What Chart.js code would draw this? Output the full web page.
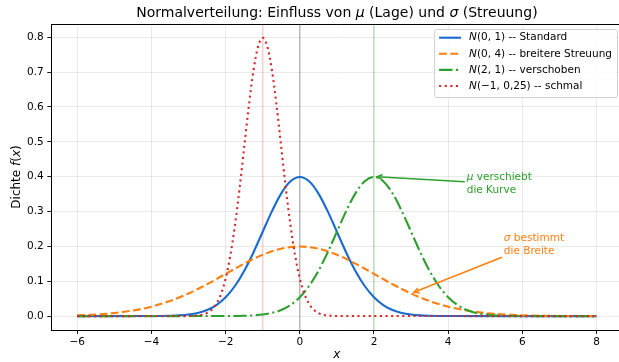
<!DOCTYPE html>
<html>
<head>
<meta charset="utf-8">
<script src="https://cdn.jsdelivr.net/npm/chart.js@4/dist/chart.umd.min.js"></script>
<style>
html, body { margin: 0; padding: 0; background: #fff; overflow: hidden; }
#wrap { width: 626px; height: 362px; }
</style>
</head>
<body>
<div id="wrap"><canvas id="c" width="626" height="362"></canvas></div>
<script>
// Werte
const stdX = [-6, -4, -3.75, -3.5, -3.25, -3, -2.75, -2.5, -2.25, -2, -1.75, -1.5, -1.25, -1, -0.75, -0.5, -0.25,
  0, 0.25, 0.5, 0.75, 1, 1.25, 1.5, 1.75, 2, 2.25, 2.5, 2.75, 3, 3.25, 3.5, 3.75, 4, 8];
const stdY = [0, 0.0001, 0.0004, 0.0009, 0.0020, 0.0044, 0.0091, 0.0175, 0.0317, 0.0540, 0.0863, 0.1295, 0.1826, 0.2420, 0.3011, 0.3521, 0.3867,
  0.3989, 0.3867, 0.3521, 0.3011, 0.2420, 0.1826, 0.1295, 0.0863, 0.0540, 0.0317, 0.0175, 0.0091, 0.0044, 0.0020, 0.0009, 0.0004, 0.0001, 0];

const wideX = [-6, -5.5, -5, -4.5, -4, -3.5, -3, -2.5, -2, -1.5, -1, -0.5, 0, 0.5, 1, 1.5, 2, 2.5, 3, 3.5, 4, 4.5, 5, 5.5, 6, 6.5, 7, 7.5, 8];
const wideY = [0.0022, 0.0045, 0.0088, 0.0159, 0.0270, 0.0431, 0.0648, 0.0913, 0.1210, 0.1506, 0.1760, 0.1933, 0.1995,
  0.1933, 0.1760, 0.1506, 0.1210, 0.0913, 0.0648, 0.0431, 0.0270, 0.0159, 0.0088, 0.0045, 0.0022, 0.0010, 0.0004, 0.0002, 0.0001];

const shiftX = [-6, -2, -1.75, -1.5, -1.25, -1, -0.75, -0.5, -0.25, 0, 0.25, 0.5, 0.75, 1, 1.25, 1.5, 1.75,
  2, 2.25, 2.5, 2.75, 3, 3.25, 3.5, 3.75, 4, 4.25, 4.5, 4.75, 5, 5.25, 5.5, 5.75, 6, 8];
const shiftY = [0, 0.0001, 0.0004, 0.0009, 0.0020, 0.0044, 0.0091, 0.0175, 0.0317, 0.0540, 0.0863, 0.1295, 0.1826, 0.2420, 0.3011, 0.3521, 0.3867,
  0.3989, 0.3867, 0.3521, 0.3011, 0.2420, 0.1826, 0.1295, 0.0863, 0.0540, 0.0317, 0.0175, 0.0091, 0.0044, 0.0020, 0.0009, 0.0004, 0.0001, 0];

const narrowX = [-6, -3, -2.875, -2.75, -2.625, -2.5, -2.375, -2.25, -2.125, -2, -1.875, -1.75, -1.625, -1.5, -1.375, -1.25, -1.125,
  -1, -0.875, -0.75, -0.625, -0.5, -0.375, -0.25, -0.125, 0, 0.125, 0.25, 0.375, 0.5, 0.625, 0.75, 0.875, 1, 8];
const narrowY = [0, 0.0003, 0.0008, 0.0018, 0.0040, 0.0089, 0.0182, 0.0350, 0.0634, 0.1080, 0.1726, 0.2590, 0.3652, 0.4839, 0.6022, 0.7041, 0.7734,
  0.7979, 0.7734, 0.7041, 0.6022, 0.4839, 0.3652, 0.2590, 0.1726, 0.1080, 0.0634, 0.0350, 0.0182, 0.0089, 0.0040, 0.0018, 0.0008, 0.0003, 0];

const seriesLabels = ['N(0, 1) -- Standard', 'N(0, 4) -- breitere Streuung', 'N(2, 1) -- verschoben', 'N(\u22121, 0,25) -- schmal'];
const seriesColors = ['#1a6bd0', '#ff7f0e', '#2ca02c', '#d62728'];

const xTicks = [-6, -4, -2, 0, 2, 4, 6, 8];
const yTicks = [0, 0.1, 0.2, 0.3, 0.4, 0.5, 0.6, 0.7, 0.8];

// senkrechte Linien bei den Mittelwerten
const meanLines = [0, 2, -1];
const meanColors = ['rgba(0,0,0,0.22)', 'rgba(44,160,44,0.25)', 'rgba(214,39,40,0.22)'];

// Pfeil-Beschriftungen: Text, Textposition, Zielpunkt
const notes = [
  { lines: ['\u03bc verschiebt', 'die Kurve'], mu: true, tx: 4.5, ty: 0.38, px: 2, py: 0.4, color: '#2ca02c' },
  { lines: ['\u03c3 bestimmt', 'die Breite'], mu: true, tx: 5.5, ty: 0.205, px: 3, py: 0.065, color: '#ff7f0e' }
];

const FAM = '"DejaVu Sans"';
const LW = 2.1;

function pts(xs, ys) { return xs.map((v, i) => ({ x: v, y: ys[i] })); }

// Text mit kursiven Stellen zeichnen; parts = [[text, kursiv], ...]
function drawParts(ctx, parts, x, y, size, align) {
  let ws = parts.map(p => { ctx.font = (p[1] ? 'italic ' : '') + size + 'px ' + FAM; return ctx.measureText(p[0]).width; });
  let w = ws.reduce((a, b) => a + b, 0);
  let cx = align === 'center' ? x - w / 2 : x;
  parts.forEach((p, i) => {
    ctx.font = (p[1] ? 'italic ' : '') + size + 'px ' + FAM;
    ctx.fillText(p[0], cx, y);
    cx += ws[i];
  });
  return w;
}

const bg = {
  id: 'bg',
  beforeDraw(chart) {
    const c = chart.ctx;
    c.save(); c.fillStyle = '#fff'; c.fillRect(0, 0, chart.width, chart.height); c.restore();
  }
};

const refLines = {
  id: 'refLines',
  beforeDatasetsDraw(chart) {
    const { ctx, chartArea: a, scales: { x } } = chart;
    ctx.save();
    ctx.beginPath(); ctx.rect(a.left, a.top, a.right - a.left, a.bottom - a.top); ctx.clip();
    meanLines.forEach((m, i) => {
      const px = x.getPixelForValue(m);
      ctx.strokeStyle = meanColors[i];
      ctx.lineWidth = 1.6;
      ctx.beginPath(); ctx.moveTo(px, a.top); ctx.lineTo(px, a.bottom); ctx.stroke();
    });
    ctx.restore();
  }
};

const deco = {
  id: 'deco',
  afterDraw(chart) {
    const { ctx, chartArea: a, scales: { x, y } } = chart;
    ctx.save();
    // obere Achsenlinie
    ctx.strokeStyle = '#000'; ctx.lineWidth = 1;
    ctx.beginPath(); ctx.moveTo(a.left, Math.round(a.top) + 0.5); ctx.lineTo(a.right, Math.round(a.top) + 0.5); ctx.stroke();

    ctx.fillStyle = '#000';
    ctx.textBaseline = 'middle';
    // Titel
    drawParts(ctx, [['Normalverteilung: Einfluss von ', 0], ['\u03bc', 1], [' (Lage) und ', 0], ['\u03c3', 1], [' (Streuung)', 0]],
      (a.left + a.right) / 2, 13.5, 14, 'center');
    // Achsentitel
    drawParts(ctx, [['x', 1]], (a.left + a.right) / 2, 355, 12, 'center');
    ctx.save();
    ctx.translate(17, (a.top + a.bottom) / 2);
    ctx.rotate(-Math.PI / 2);
    drawParts(ctx, [['Dichte ', 0], ['f', 1], ['(', 0], ['x', 1], [')', 0]], 0, 0, 12, 'center');
    ctx.restore();

    // Legende
    const fs = 10.5;
    ctx.font = fs + 'px ' + FAM;
    let maxW = 0;
    seriesLabels.forEach(l => {
      ctx.font = 'italic ' + fs + 'px ' + FAM; let w = ctx.measureText(l[0]).width;
      ctx.font = fs + 'px ' + FAM; w += ctx.measureText(l.slice(1)).width;
      maxW = Math.max(maxW, w);
    });
    const right = a.right - 5.5, top = a.top + 5;
    const left = right - (35 + maxW + 5);
    const h = 68;
    ctx.fillStyle = 'rgba(255,255,255,0.8)';
    ctx.strokeStyle = '#d0d0d0'; ctx.lineWidth = 1;
    ctx.beginPath(); ctx.roundRect(left + 0.5, top + 0.5, right - left, h, 2.5); ctx.fill(); ctx.stroke();
    chart.data.datasets.forEach((ds, i) => {
      const cy = top + 8.7 + i * 16.1;
      ctx.strokeStyle = ds.borderColor; ctx.lineWidth = LW;
      ctx.setLineDash(ds.borderDash || []);
      ctx.lineCap = 'butt';
      ctx.beginPath(); ctx.moveTo(left + 5, cy); ctx.lineTo(left + 27, cy); ctx.stroke();
      ctx.setLineDash([]);
      ctx.fillStyle = '#000';
      drawParts(ctx, [[seriesLabels[i][0], 1], [seriesLabels[i].slice(1), 0]], left + 35, cy, fs, 'left');
    });

    // Pfeile mit Beschriftung
    notes.forEach(n => {
      const tl = x.getPixelForValue(n.tx), tyc = y.getPixelForValue(n.ty);
      const lh = 13;
      ctx.fillStyle = n.color;
      let w = 0;
      n.lines.forEach((ln, j) => {
        const yy = tyc - lh * (n.lines.length - 1) / 2 + j * lh;
        const parts = j === 0 ? [[ln[0], 1], [ln.slice(1), 0]] : [[ln, 0]];
        w = Math.max(w, drawParts(ctx, parts, tl, yy, 10.5, 'left'));
      });
      const hh = lh * n.lines.length;
      const cx = tl + w / 2, cy = tyc;
      const tx = x.getPixelForValue(n.px), ty = y.getPixelForValue(n.py);
      let dx = tx - cx, dy = ty - cy;
      let t = Math.min(Math.abs((w / 2) / dx), Math.abs((hh / 2) / dy));
      const len = Math.hypot(dx, dy);
      const ux = dx / len, uy = dy / len;
      const sx = cx + dx * t + ux * 2, sy = cy + dy * t + uy * 2;
      const ex = tx - ux * 3, ey = ty - uy * 3;
      ctx.strokeStyle = n.color; ctx.lineWidth = 1.5;
      ctx.beginPath(); ctx.moveTo(sx, sy); ctx.lineTo(ex, ey); ctx.stroke();
      const ang = Math.atan2(uy, ux), hl = 6, ha = 0.45;
      ctx.beginPath();
      ctx.moveTo(ex - hl * Math.cos(ang - ha), ey - hl * Math.sin(ang - ha));
      ctx.lineTo(ex, ey);
      ctx.lineTo(ex - hl * Math.cos(ang + ha), ey - hl * Math.sin(ang + ha));
      ctx.stroke();
    });
    ctx.restore();
  }
};

const gridColor = 'rgba(176,176,176,0.3)';
const tickFont = { family: FAM, size: 10.5 };

new Chart(document.getElementById('c'), {
  type: 'line',
  data: {
    datasets: [
      { label: seriesLabels[0], data: pts(stdX, stdY), borderColor: seriesColors[0], order: 4 },
      { label: seriesLabels[1], data: pts(wideX, wideY), borderColor: seriesColors[1], borderDash: [7.8, 3.4], order: 3 },
      { label: seriesLabels[2], data: pts(shiftX, shiftY), borderColor: seriesColors[2], borderDash: [13.4, 3.4, 2.1, 3.4], order: 2 },
      { label: seriesLabels[3], data: pts(narrowX, narrowY), borderColor: seriesColors[3], borderDash: [2.1, 3.5], order: 1 }
    ]
  },
  options: {
    responsive: false,
    animation: false,
    devicePixelRatio: 1,
    layout: { padding: { top: 24, right: 3.5, left: 0, bottom: 0 } },
    elements: {
      point: { radius: 0 },
      line: { borderWidth: LW, cubicInterpolationMode: 'monotone', borderCapStyle: 'butt', borderJoinStyle: 'round', fill: false }
    },
    plugins: { legend: { display: false }, title: { display: false }, tooltip: { enabled: false } },
    scales: {
      x: {
        type: 'linear', min: -6.7, max: 8.7,
        afterFit(s) { s.height = 32; },
        afterBuildTicks(s) { s.ticks = xTicks.map(v => ({ value: v })); },
        grid: { color: gridColor, lineWidth: 0.9, tickLength: 4, tickColor: '#000', tickWidth: 0.9 },
        border: { color: '#000', width: 1 },
        ticks: { font: tickFont, color: '#000', padding: 1.5, autoSkip: false, maxRotation: 0,
          callback: v => v < 0 ? '\u2212' + Math.abs(v) : String(v) }
      },
      y: {
        type: 'linear', min: -0.0399, max: 0.8378,
        afterFit(s) { s.width = 51.3; },
        afterBuildTicks(s) { s.ticks = yTicks.map(v => ({ value: v })); },
        grid: { color: gridColor, lineWidth: 0.9, tickLength: 4, tickColor: '#000', tickWidth: 0.9 },
        border: { color: '#000', width: 1 },
        ticks: { font: tickFont, color: '#000', padding: 3.5, autoSkip: false,
          callback: v => v.toFixed(1) }
      }
    }
  },
  plugins: [bg, refLines, deco]
});
</script>
</body>
</html>
